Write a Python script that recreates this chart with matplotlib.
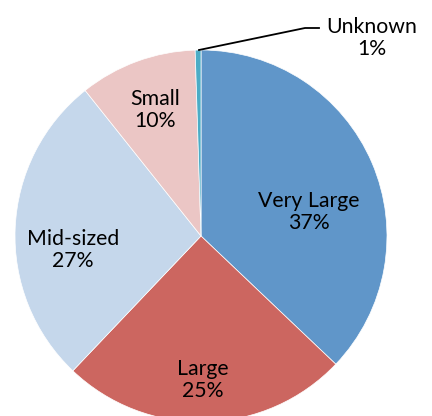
import matplotlib.pyplot as plt

categories = ['Very Large', 'Large', 'Mid-sized', 'Small', 'Unknown']
shares = [37.1, 25.0, 27.2, 10.2, 0.5]
pct_labels = ['37%', '25%', '27%', '10%', '1%']
colors = ['#6096C9', '#CC6660', '#C5D7EB', '#EBC6C5', '#4BACC6']

# label centres in pixel coords (x, y from top)
label_pos = [(309, 212), (203, 380), (73, 250), (155, 110), (372, 38)]

W, H = 432, 416
fig = plt.figure(figsize=(W / 100, H / 100), dpi=100)
ax = fig.add_axes([0, 0, 1, 1])

cx, cy, r = 201, 236, 186
ax.pie(shares, colors=colors, startangle=90, counterclock=False,
       center=(cx, H - cy), radius=r, frame=True,
       wedgeprops=dict(linewidth=0.5, edgecolor='white'))
ax.set_xlim(0, W)
ax.set_ylim(0, H)
ax.set_aspect('equal')
ax.axis('off')

for cat, pct, (x, y) in zip(categories, pct_labels, label_pos):
    ax.text(x, H - y, cat + '\n' + pct, ha='center', va='center',
            fontsize=15.3, family='Lato', linespacing=1.15, color='black')

# leader line for the tiny slice
ax.plot([199, 305, 319], [H - 50, H - 28, H - 28], color='black', lw=1.3)

plt.savefig('out.png', dpi=100)
